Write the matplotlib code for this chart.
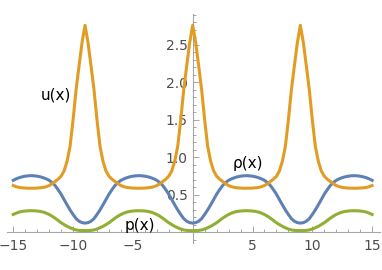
import numpy as np
import matplotlib
matplotlib.use("Agg")
import matplotlib.pyplot as plt
from matplotlib.ticker import MultipleLocator, FixedLocator

# sample positions (step 0.25) and values
x = np.arange(-15, 15.001, 0.25)

rho = [
    0.695, 0.715, 0.730, 0.742, 0.750, 0.755,
    0.757, 0.755, 0.750, 0.742, 0.730, 0.715, 0.695, 0.665, 0.625, 0.570, 0.510, 0.438, 0.368, 0.300, 0.240, 0.185, 0.150, 0.131,
    0.125, 0.131, 0.150, 0.185, 0.240, 0.300, 0.368, 0.438, 0.510, 0.570, 0.625, 0.665, 0.695, 0.715, 0.730, 0.742, 0.750, 0.755,
    0.757, 0.755, 0.750, 0.742, 0.730, 0.715, 0.695, 0.665, 0.625, 0.570, 0.510, 0.438, 0.368, 0.300, 0.240, 0.185, 0.150, 0.131,
    0.125,
    0.131, 0.150, 0.185, 0.240, 0.300, 0.368, 0.438, 0.510, 0.570, 0.625, 0.665, 0.695, 0.715, 0.730, 0.742, 0.750, 0.755, 0.757,
    0.755, 0.750, 0.742, 0.730, 0.715, 0.695, 0.665, 0.625, 0.570, 0.510, 0.438, 0.368, 0.300, 0.240, 0.185, 0.150, 0.131, 0.125,
    0.131, 0.150, 0.185, 0.240, 0.300, 0.368, 0.438, 0.510, 0.570, 0.625, 0.665, 0.695, 0.715, 0.730, 0.742, 0.750, 0.755, 0.757,
    0.755, 0.750, 0.742, 0.730, 0.715, 0.695,
]

u = [
    0.625, 0.610, 0.600, 0.595, 0.592, 0.590,
    0.590, 0.590, 0.592, 0.595, 0.600, 0.610, 0.625, 0.650, 0.680, 0.710, 0.750, 0.820, 0.950, 1.150, 1.500, 1.900, 2.220, 2.530,
    2.760, 2.530, 2.220, 1.900, 1.500, 1.150, 0.950, 0.820, 0.750, 0.710, 0.680, 0.650, 0.625, 0.610, 0.600, 0.595, 0.592, 0.590,
    0.590, 0.590, 0.592, 0.595, 0.600, 0.610, 0.625, 0.650, 0.680, 0.710, 0.750, 0.820, 0.950, 1.150, 1.500, 1.900, 2.220, 2.530,
    2.760,
    2.530, 2.220, 1.900, 1.500, 1.150, 0.950, 0.820, 0.750, 0.710, 0.680, 0.650, 0.625, 0.610, 0.600, 0.595, 0.592, 0.590, 0.590,
    0.590, 0.592, 0.595, 0.600, 0.610, 0.625, 0.650, 0.680, 0.710, 0.750, 0.820, 0.950, 1.150, 1.500, 1.900, 2.220, 2.530, 2.760,
    2.530, 2.220, 1.900, 1.500, 1.150, 0.950, 0.820, 0.750, 0.710, 0.680, 0.650, 0.625, 0.610, 0.600, 0.595, 0.592, 0.590, 0.590,
    0.590, 0.592, 0.595, 0.600, 0.610, 0.625,
]

p = [
    0.240, 0.258, 0.272, 0.281, 0.286, 0.289,
    0.290, 0.289, 0.286, 0.281, 0.272, 0.258, 0.240, 0.217, 0.190, 0.160, 0.130, 0.105, 0.082, 0.063, 0.046, 0.034, 0.028, 0.026,
    0.025, 0.026, 0.028, 0.034, 0.046, 0.063, 0.082, 0.105, 0.130, 0.160, 0.190, 0.217, 0.240, 0.258, 0.272, 0.281, 0.286, 0.289,
    0.290, 0.289, 0.286, 0.281, 0.272, 0.258, 0.240, 0.217, 0.190, 0.160, 0.130, 0.105, 0.082, 0.063, 0.046, 0.034, 0.028, 0.026,
    0.025,
    0.026, 0.028, 0.034, 0.046, 0.063, 0.082, 0.105, 0.130, 0.160, 0.190, 0.217, 0.240, 0.258, 0.272, 0.281, 0.286, 0.289, 0.290,
    0.289, 0.286, 0.281, 0.272, 0.258, 0.240, 0.217, 0.190, 0.160, 0.130, 0.105, 0.082, 0.063, 0.046, 0.034, 0.028, 0.026, 0.025,
    0.026, 0.028, 0.034, 0.046, 0.063, 0.082, 0.105, 0.130, 0.160, 0.190, 0.217, 0.240, 0.258, 0.272, 0.281, 0.286, 0.289, 0.290,
    0.289, 0.286, 0.281, 0.272, 0.258, 0.240,
]

xticks = [-15, -10, -5, 5, 10, 15]
yticks = [0.5, 1.0, 1.5, 2.0, 2.5]

fig = plt.figure(figsize=(3.82, 2.70), dpi=100)
ax = fig.add_axes([0.0175, 0.1, 0.977, 0.848])

# порядок как в Mathematica: rho, u, p
ax.plot(x, rho, color="#5E81B5", lw=2.2, zorder=3, solid_joinstyle="round")
ax.plot(x, u, color="#E19C24", lw=2.2, zorder=3, solid_joinstyle="round")
ax.plot(x, p, color="#8FB032", lw=2.2, zorder=3, solid_joinstyle="round")

ax.set_xlim(-15.55, 15.65)
ax.set_ylim(-0.14, 2.91)

# оси через начало координат
for side in ("top", "right"):
    ax.spines[side].set_visible(False)
ax.spines["left"].set_position(("data", 0))
ax.spines["bottom"].set_position(("data", 0))
for side in ("left", "bottom"):
    ax.spines[side].set_color("#a6a6a6")
    ax.spines[side].set_linewidth(0.8)

ax.xaxis.set_major_locator(FixedLocator(xticks))
ax.xaxis.set_minor_locator(MultipleLocator(1))
ax.yaxis.set_major_locator(FixedLocator(yticks))
ax.yaxis.set_minor_locator(MultipleLocator(0.1))
ax.set_xticklabels(["\u2212" + str(-t) if t < 0 else str(t) for t in xticks])
ax.set_yticklabels(["%.1f" % t for t in yticks])

ax.tick_params(which="both", direction="in", color="#a6a6a6", width=0.7,
               labelcolor="#4d4d4d", labelsize=10)
ax.tick_params(which="major", length=4)
ax.tick_params(which="minor", length=2)
ax.tick_params(axis="x", pad=4.5)
ax.tick_params(axis="y", pad=3.5)

ax.text(-11.44, 1.83, "u(x)", fontsize=11, ha="center", va="center")
ax.text(4.6, 0.92, "\u03c1(x)", fontsize=11, ha="center", va="center")
ax.text(-4.43, 0.09, "p(x)", fontsize=11, ha="center", va="center")

fig.savefig("out.png", dpi=100)
